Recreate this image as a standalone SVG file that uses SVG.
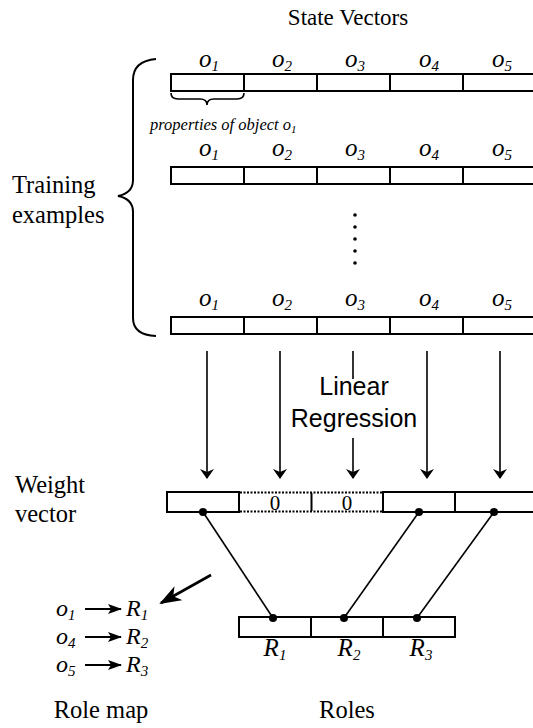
<svg xmlns="http://www.w3.org/2000/svg" width="533" height="728" viewBox="0 0 533 728">
<defs>
<style>
.serif{font-family:"Liberation Serif","Times New Roman",serif;fill:#000}
.it{font-style:italic}
.sans{font-family:"Liberation Sans",Arial,sans-serif;fill:#000}
.box{fill:#fff;stroke:#000;stroke-width:2}
.dot{fill:none;stroke:#000;stroke-width:2;stroke-dasharray:2,1.5}
.ln{fill:none;stroke:#000;stroke-width:1.6}
.lbl{font-size:25px;text-anchor:middle}
.sub{font-size:15px}
.big{font-size:24.5px}
</style>
<marker id="ah" markerWidth="10" markerHeight="14" refX="9" refY="7" orient="auto" markerUnits="userSpaceOnUse">
<path d="M0,0 L10,7 L0,14 L3,7 Z" fill="#000"/>
</marker>
<marker id="ah2" markerWidth="22" markerHeight="16" refX="20" refY="8" orient="auto" markerUnits="userSpaceOnUse">
<path d="M0,0 L22,8 L0,16 L6,8 Z" fill="#000"/>
</marker>
<marker id="ah3" markerWidth="14" markerHeight="10" refX="13" refY="5" orient="auto" markerUnits="userSpaceOnUse">
<path d="M0,0 L14,5 L0,10 L3,5 Z" fill="#000"/>
</marker>
</defs>
<rect width="533" height="728" fill="#fff"/>

<text class="serif" x="348" y="25" font-size="23" text-anchor="middle">State Vectors</text>

<g id="vector1">
<g class="serif it lbl">
<text x="209" y="67">o<tspan class="sub" dy="4">1</tspan></text>
<text x="282" y="67">o<tspan class="sub" dy="4">2</tspan></text>
<text x="355" y="67">o<tspan class="sub" dy="4">3</tspan></text>
<text x="429" y="67">o<tspan class="sub" dy="4">4</tspan></text>
<text x="502" y="67">o<tspan class="sub" dy="4">5</tspan></text>
</g>
<rect class="box" x="171" y="74" width="73" height="17"/>
<rect class="box" x="244" y="74" width="73" height="17"/>
<rect class="box" x="317" y="74" width="73" height="17"/>
<rect class="box" x="390" y="74" width="73" height="17"/>
<rect class="box" x="463" y="74" width="80" height="17"/>
</g>

<g id="properties">
<path class="ln" d="M171,93 Q171,99 178,99 L200,99 Q207,99 207,105 Q207,99 214,99 L237,99 Q244,99 244,93"/>
<text class="serif it" x="150" y="130" font-size="16.5">properties of object o<tspan font-size="11" dy="3">1</tspan></text>
</g>

<g id="vector2">
<g class="serif it lbl">
<text x="209" y="156">o<tspan class="sub" dy="4">1</tspan></text>
<text x="282" y="156">o<tspan class="sub" dy="4">2</tspan></text>
<text x="355" y="156">o<tspan class="sub" dy="4">3</tspan></text>
<text x="429" y="156">o<tspan class="sub" dy="4">4</tspan></text>
<text x="502" y="156">o<tspan class="sub" dy="4">5</tspan></text>
</g>
<rect class="box" x="171" y="167" width="73" height="17"/>
<rect class="box" x="244" y="167" width="73" height="17"/>
<rect class="box" x="317" y="167" width="73" height="17"/>
<rect class="box" x="390" y="167" width="73" height="17"/>
<rect class="box" x="463" y="167" width="80" height="17"/>
</g>

<g id="ellipsis">
<circle cx="355" cy="215" r="1.8"/>
<circle cx="355" cy="227" r="1.8"/>
<circle cx="355" cy="239" r="1.8"/>
<circle cx="355" cy="251" r="1.8"/>
<circle cx="355" cy="263" r="1.8"/>
</g>

<g id="vector3">
<g class="serif it lbl">
<text x="209" y="306">o<tspan class="sub" dy="4">1</tspan></text>
<text x="282" y="306">o<tspan class="sub" dy="4">2</tspan></text>
<text x="355" y="306">o<tspan class="sub" dy="4">3</tspan></text>
<text x="429" y="306">o<tspan class="sub" dy="4">4</tspan></text>
<text x="502" y="306">o<tspan class="sub" dy="4">5</tspan></text>
</g>
<rect class="box" x="171" y="317" width="73" height="17"/>
<rect class="box" x="244" y="317" width="73" height="17"/>
<rect class="box" x="317" y="317" width="73" height="17"/>
<rect class="box" x="390" y="317" width="73" height="17"/>
<rect class="box" x="463" y="317" width="80" height="17"/>
</g>

<g id="training">
<path fill="none" stroke="#000" stroke-width="2" d="M156,59 Q133,61 133,80 L133,180 Q133,193 118,196 Q133,199 133,212 L133,318 Q133,335 156,336"/>
<text class="serif big" x="12" y="193">Training</text>
<text class="serif big" x="12" y="223">examples</text>
</g>

<g id="connectors">
<line class="ln" x1="207" y1="351" x2="207" y2="478" marker-end="url(#ah)"/>
<line class="ln" x1="280" y1="351" x2="280" y2="478" marker-end="url(#ah)"/>
<line class="ln" x1="353" y1="351" x2="353" y2="379"/>
<line class="ln" x1="353" y1="438" x2="353" y2="478" marker-end="url(#ah)"/>
<line class="ln" x1="427" y1="351" x2="427" y2="478" marker-end="url(#ah)"/>
<line class="ln" x1="500" y1="351" x2="500" y2="478" marker-end="url(#ah)"/>
<line class="ln" x1="203" y1="512" x2="273" y2="618"/>
<line class="ln" x1="419" y1="512" x2="344" y2="618"/>
<line class="ln" x1="494" y1="512" x2="417" y2="618"/>
<line x1="211" y1="575" x2="161" y2="603" stroke="#000" stroke-width="2.6" marker-end="url(#ah2)"/>
</g>

<g id="regression">
<text class="sans" x="354" y="395" font-size="25" text-anchor="middle">Linear</text>
<text class="sans" x="354" y="427" font-size="25" text-anchor="middle">Regression</text>
</g>

<g id="weight">
<text class="serif big" x="15" y="493">Weight</text>
<text class="serif big" x="15" y="522">vector</text>
<rect class="box" x="167" y="492" width="72" height="20"/>
<line class="dot" x1="240" y1="492.5" x2="382" y2="492.5"/>
<line class="dot" x1="240" y1="511.5" x2="382" y2="511.5"/>
<line x1="311.5" y1="493" x2="311.5" y2="511" stroke="#000" stroke-width="2"/>
<text class="serif" x="275" y="510" font-size="21" text-anchor="middle">0</text>
<text class="serif" x="347" y="510" font-size="21" text-anchor="middle">0</text>
<rect class="box" x="383" y="492" width="72" height="20"/>
<rect class="box" x="455" y="492" width="85" height="20"/>
<circle cx="203" cy="512" r="4"/>
<circle cx="419" cy="512" r="4"/>
<circle cx="494" cy="512" r="4"/>
</g>

<g id="roles">
<rect class="box" x="239" y="617" width="72" height="20"/>
<rect class="box" x="311" y="617" width="72" height="20"/>
<rect class="box" x="383" y="617" width="72" height="20"/>
<circle cx="273" cy="618" r="4"/>
<circle cx="344" cy="618" r="4"/>
<circle cx="417" cy="618" r="4"/>
<g class="serif it lbl">
<text x="275" y="656">R<tspan class="sub" dy="4">1</tspan></text>
<text x="349" y="656">R<tspan class="sub" dy="4">2</tspan></text>
<text x="421" y="656">R<tspan class="sub" dy="4">3</tspan></text>
</g>
<text class="serif big" x="347" y="718" text-anchor="middle">Roles</text>
</g>

<g id="rolemap">
<g class="serif it" font-size="24">
<text x="56" y="616">o<tspan class="sub" dy="4">1</tspan></text>
<text x="56" y="644">o<tspan class="sub" dy="4">4</tspan></text>
<text x="56" y="672">o<tspan class="sub" dy="4">5</tspan></text>
<text x="126" y="616">R<tspan class="sub" dy="4">1</tspan></text>
<text x="126" y="644">R<tspan class="sub" dy="4">2</tspan></text>
<text x="126" y="672">R<tspan class="sub" dy="4">3</tspan></text>
</g>
<line x1="85" y1="609" x2="121" y2="609" stroke="#000" stroke-width="2" marker-end="url(#ah3)"/>
<line x1="85" y1="637" x2="121" y2="637" stroke="#000" stroke-width="2" marker-end="url(#ah3)"/>
<line x1="85" y1="665" x2="121" y2="665" stroke="#000" stroke-width="2" marker-end="url(#ah3)"/>
<text class="serif big" x="101" y="718" text-anchor="middle">Role map</text>
</g>
</svg>
